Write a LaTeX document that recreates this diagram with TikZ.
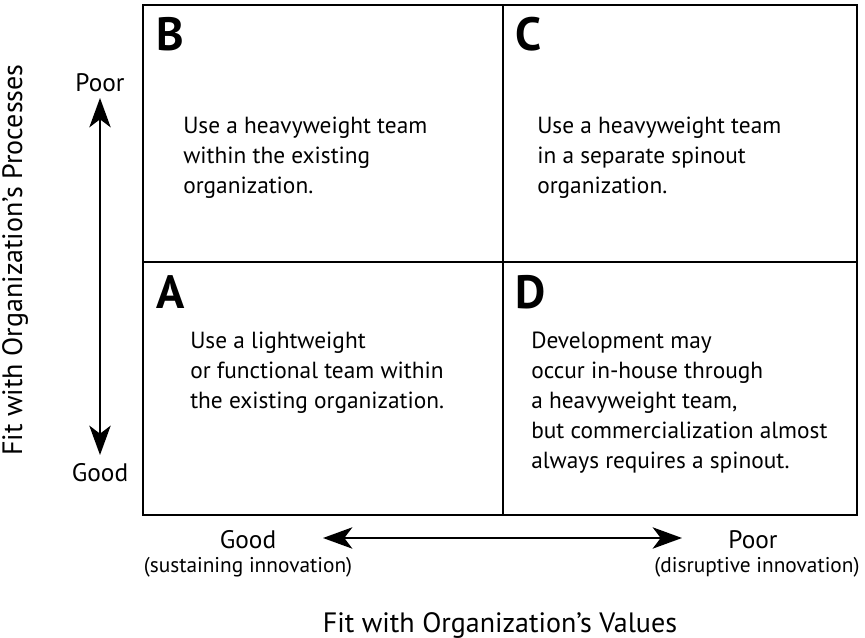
\documentclass[tikz,border=0pt]{standalone}
\usepackage{fontspec}
\setmainfont{PT Sans}
\usetikzlibrary{arrows.meta}

\tikzset{
  cellletter/.style={anchor=north west,inner sep=0pt,font=\fontsize{35}{40}\selectfont\bfseries},
  celltext/.style={anchor=north west,inner sep=0pt,align=left,font=\fontsize{17.5}{22.5}\selectfont},
  axislabel/.style={inner sep=0pt,align=center,font=\fontsize{19}{22}\selectfont},
  axisnote/.style={inner sep=0pt,align=center,font=\fontsize{16}{19}\selectfont},
  axistitle/.style={inner sep=0pt,font=\fontsize{21}{25}\selectfont},
  axisarrow/.style={{Stealth[length=22pt,width=16pt,inset=6pt]}-{Stealth[length=22pt,width=16pt,inset=6pt]},line width=1.5pt},
}

\begin{document}
\begin{tikzpicture}[x=0.75pt,y=-0.75pt]
\useasboundingbox (0,0) rectangle (865,638);
% matrix
\draw[line width=2.2pt] (143,5) rectangle (857,515);
\draw[line width=2.2pt] (503,5) -- (503,515);
\draw[line width=2.2pt] (143,262) -- (857,262);

\node[cellletter] (B) at (156,17) {B};
\node[cellletter] (C) at (515,17) {C};
\node[cellletter] (A) at (156,275) {A};
\node[cellletter] (D) at (515,275) {D};

\node[celltext] (tB) at (183,117) {Use a heavyweight team\\within the existing\\organization.};
\node[celltext] (tC) at (537,117) {Use a heavyweight team\\in a separate spinout\\organization.};
\node[celltext] (tA) at (190,332) {Use a lightweight\\or functional team within\\the existing organization.};
\node[celltext] (tD) at (531,332) {Development may\\occur in-house through\\a heavyweight team,\\but commercialization almost\\always requires a spinout.};

% vertical axis
\node[axislabel] (vpoor) at (100,83) {Poor};
\node[axislabel] (vgood) at (100,473) {Good};
\coordinate (vtop) at (100,98);
\coordinate (vbot) at (100,455);
\draw[axisarrow] (vtop) -- (vbot);
\node[axistitle,rotate=90] (procs) at (15,260) {Fit with Organization’s Processes};

% horizontal axis
\node[axislabel] (hgood) at (248,540) {Good};
\node[axisnote] (hgoodnote) at (248,567) {(sustaining innovation)};
\node[axislabel] (hpoor) at (753,540) {Poor};
\node[axisnote] (hpoornote) at (757,567) {(disruptive innovation)};
\coordinate (hleft) at (323,538);
\coordinate (hright) at (682,538);
\draw[axisarrow] (hleft) -- (hright);
\node[axistitle] (values) at (500,625) {Fit with Organization’s Values};
\end{tikzpicture}
\end{document}
